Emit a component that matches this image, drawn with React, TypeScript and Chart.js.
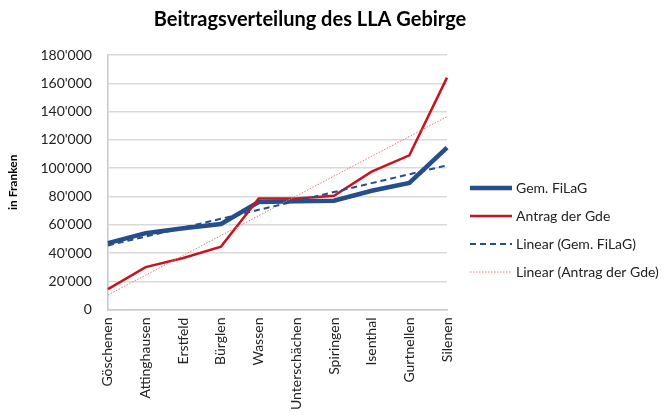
import React, { useEffect, useRef } from "react";
import { Chart, registerables } from "chart.js";

Chart.register(...registerables);

const title = "Beitragsverteilung des LLA Gebirge";
const yAxisTitle = "in Franken";
const categories = [
  "Göschenen",
  "Attinghausen",
  "Erstfeld",
  "Bürglen",
  "Wassen",
  "Unterschächen",
  "Spiringen",
  "Isenthal",
  "Gurtnellen",
  "Silenen",
];
const filagValues = [47000, 54000, 57500, 60500, 76000, 76500, 77000, 84000, 89500, 114500];
const antragValues = [14500, 30000, 36500, 44500, 78500, 78500, 80500, 97500, 109000, 164000];
const seriesNames = ["Gem. FiLaG", "Antrag der Gde", "Linear (Gem. FiLaG)", "Linear (Antrag der Gde)"];
const yMin = 0;
const yMax = 180000;
const yStep = 20000;

// Excel-style linear trendline (least squares fit of the series)
function linearTrend(values: number[]): number[] {
  const n = values.length;
  const xs = values.map((_, i) => i + 1);
  const mx = xs.reduce((a, b) => a + b, 0) / n;
  const my = values.reduce((a, b) => a + b, 0) / n;
  let num = 0;
  let den = 0;
  for (let i = 0; i < n; i++) {
    num += (xs[i] - mx) * (values[i] - my);
    den += (xs[i] - mx) * (xs[i] - mx);
  }
  const slope = num / den;
  const intercept = my - slope * mx;
  return xs.map((x) => intercept + slope * x);
}

function formatCH(v: number): string {
  const s = Math.round(v).toString();
  return s.replace(/\B(?=(\d{3})+(?!\d))/g, "'");
}

const FONT = "Lato, 'Open Sans', sans-serif";

const titleAndLegendPlugin = {
  id: "titleAndLegend",
  afterDraw(chart: any) {
    const ctx = chart.ctx as CanvasRenderingContext2D;
    const area = chart.chartArea;
    ctx.save();
    // title
    ctx.fillStyle = "#000";
    ctx.font = `bold 20px ${FONT}`;
    ctx.textAlign = "center";
    ctx.textBaseline = "middle";
    ctx.fillText(title, 310, 20);
    // legend
    const x0 = area.right + 23;
    const lineLen = 42;
    const rowH = 28;
    const ds = chart.data.datasets;
    const yStart = 188;
    ds.forEach((d: any, i: number) => {
      const y = yStart + i * rowH;
      ctx.beginPath();
      ctx.strokeStyle = d.borderColor;
      ctx.lineWidth = d.borderWidth;
      ctx.setLineDash(d.borderDash || []);
      ctx.lineCap = "butt";
      ctx.moveTo(x0, y);
      ctx.lineTo(x0 + lineLen, y);
      ctx.stroke();
      ctx.setLineDash([]);
      ctx.fillStyle = "#222";
      ctx.font = `14px ${FONT}`;
      ctx.textAlign = "left";
      ctx.textBaseline = "middle";
      ctx.fillText(d.label, x0 + lineLen + 4, y);
    });
    ctx.restore();
  },
};

export default function App() {
  const ref = useRef<HTMLCanvasElement | null>(null);
  useEffect(() => {
    if (!ref.current) return;
    const chart = new Chart(ref.current, {
      type: "line",
      data: {
        labels: categories,
        datasets: [
          {
            label: seriesNames[0],
            data: filagValues,
            borderColor: "#254E8A",
            backgroundColor: "#254E8A",
            borderWidth: 4.5,
            pointRadius: 0,
            tension: 0,
            order: 2,
          },
          {
            label: seriesNames[1],
            data: antragValues,
            borderColor: "#C8141C",
            backgroundColor: "#C8141C",
            borderWidth: 2.5,
            pointRadius: 0,
            tension: 0,
            order: 1,
          },
          {
            label: seriesNames[2],
            data: linearTrend(filagValues),
            borderColor: "#254E8A",
            backgroundColor: "#254E8A",
            borderWidth: 2,
            borderDash: [6, 4],
            pointRadius: 0,
            order: 0,
          },
          {
            label: seriesNames[3],
            data: linearTrend(antragValues),
            borderColor: "#E8787C",
            backgroundColor: "#E8787C",
            borderWidth: 1,
            borderDash: [1.5, 1.5],
            pointRadius: 0,
            order: 0,
          },
        ],
      },
      options: {
        animation: false,
        responsive: false,
        maintainAspectRatio: false,
        layout: { padding: { left: 6, right: 223, top: 55, bottom: -2 } },
        plugins: {
          title: { display: false },
          legend: { display: false },
          tooltip: { enabled: false },
        },
        scales: {
          x: {
            grid: { display: false, drawTicks: false },
            border: { display: true, color: "#c8c8c8", width: 1.5 },
            ticks: {
              minRotation: 90,
              maxRotation: 90,
              padding: 8,
              color: "#222",
              font: { family: FONT, size: 14 },
            },
          },
          y: {
            min: yMin,
            max: yMax,
            ticks: {
              stepSize: yStep,
              padding: 16,
              color: "#222",
              font: { family: FONT, size: 14 },
              callback: (v: any) => formatCH(Number(v)),
            },
            grid: { color: "#d9d9d9", lineWidth: 1.5, drawTicks: false },
            border: { display: true, color: "#c8c8c8", width: 1.5 },
            title: {
              display: true,
              text: yAxisTitle,
              color: "#000",
              font: { family: FONT, size: 12, weight: "bold" },
              padding: { top: 0, bottom: 4 },
            },
          },
        },
      },
      plugins: [titleAndLegendPlugin],
    });
    return () => chart.destroy();
  }, []);
  return (
    <div style={{ position: "absolute", left: 0, top: 0, width: 670, height: 416, background: "#fff" }}>
      <canvas ref={ref} width={670} height={416} style={{ width: 670, height: 416 }} />
    </div>
  );
}
